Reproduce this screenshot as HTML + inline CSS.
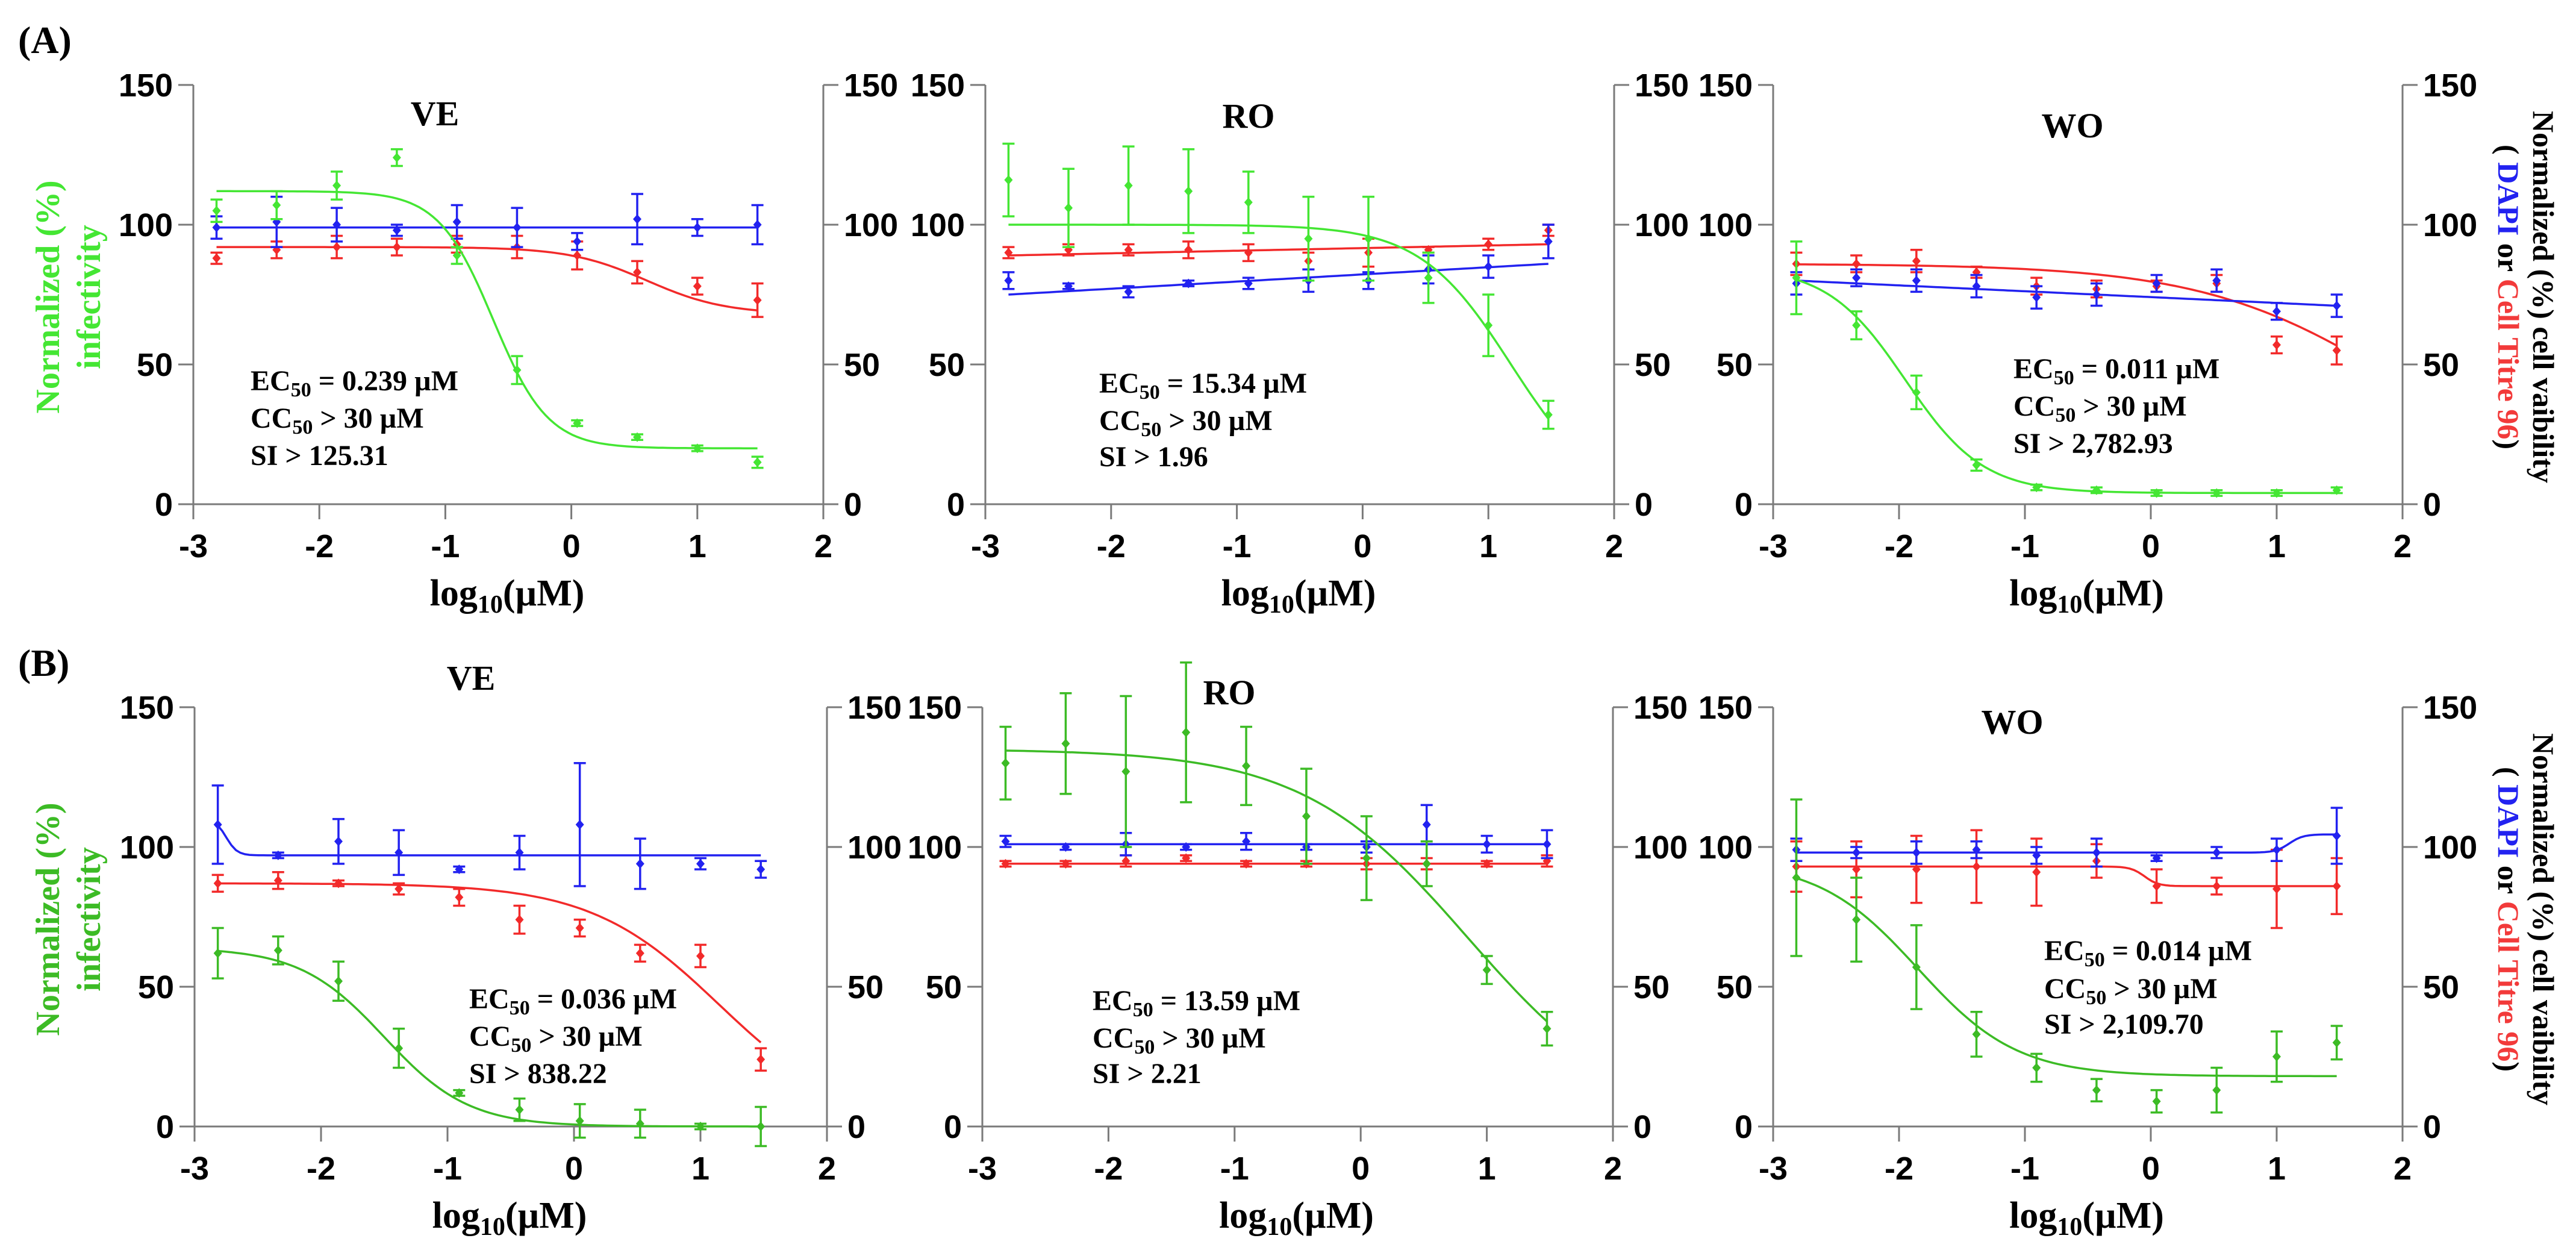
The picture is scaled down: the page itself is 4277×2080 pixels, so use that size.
<!DOCTYPE html>
<html><head><meta charset="utf-8"><style>
html,body{margin:0;padding:0;background:#fff;}
svg{display:block;}
.tk{font-family:"Liberation Sans",Arial,sans-serif;font-weight:bold;font-size:54px;fill:#000;}
.tm{font-family:"Liberation Serif","Times New Roman",serif;font-weight:bold;fill:#000;}
</style></head><body>
<svg id="fig" xmlns="http://www.w3.org/2000/svg" width="4277" height="2080" viewBox="0 0 4277 2080">
<rect width="4277" height="2080" fill="#fff"/>
<text class="tm" x="30" y="88" font-size="64">(A)</text>
<text class="tm" x="30" y="1122" font-size="64">(B)</text>
</svg>
<script>
const xDoses = [-2.816,-2.339,-1.862,-1.385,-0.908,-0.431,0.046,0.523,1.0,1.477];
const yTicks = [0,50,100,150];
const xTicks = [-3,-2,-1,0,1,2];

const A1_green = [105,107,114,124,89,48,29,24,20,15];
const A1_greenErr = [4,5,5,3,3,5,1,1,1,2];
const A1_blue = [99,101,100,98,101,99,94,102,99,100];
const A1_blueErr = [4,9,6,2,6,7,3,9,3,7];
const A1_red = [88,91,92,92,93,92,89,83,78,73];
const A1_redErr = [2,3,4,3,3,4,5,4,3,6];
const A1_greenFit = [112,20,-0.62,2];
const A1_blueFit = [99,99];
const A1_redFit = [92,68,0.6,1.4];

const A2_green = [116,106,114,112,108,95,95,81,64,32];
const A2_greenErr = [13,14,14,15,11,15,15,9,11,5];
const A2_blue = [80,78,76,79,79,80,80,84,85,94];
const A2_blueErr = [3,1,2,1,2,4,3,5,4,6];
const A2_red = [90,91,91,91,90,87,90,91,93,98];
const A2_redErr = [2,2,2,3,3,3,5,1,2,2];
const A2_greenFit = [100,0,1.18,1.2];
const A2_blueFit = [75,86];
const A2_redFit = [89,93];

const A3_green = [81,64,40,14,6,5,4,4,4,5];
const A3_greenErr = [13,5,6,2,1,1,1,1,1,1];
const A3_blue = [79,81,80,78,74,75,79,80,69,71];
const A3_blueErr = [4,3,4,4,4,4,3,4,3,4];
const A3_red = [86,86,87,83,78,77,78,79,57,55];
const A3_redErr = [4,3,4,2,3,3,2,3,3,5];
const A3_greenFit = [85,4,-1.95,1.4];
const A3_blueFit = [80,71];
const A3_redFit = [86,0,2.0,0.55];

const B1_green = [62,63,52,28,12,6,2,1,0,0];
const B1_greenErr = [9,5,7,7,1,4,6,5,1,7];
const B1_blue = [108,97,102,98,92,98,108,94,94,92];
const B1_blueErr = [14,1,8,8,1,6,22,9,2,3];
const B1_red = [87,88,87,85,82,74,71,62,61,24];
const B1_redErr = [3,3,1,2,3,5,3,3,4,4];
const B1_greenFit = [64,0,-1.5,1.3];
const B1_blueFit = [110,97,-2.75,10];
const B1_redFit = [87,0,1.15,0.85];

const B2_green = [130,137,127,141,129,111,96,94,56,35];
const B2_greenErr = [13,18,27,25,14,17,15,8,5,6];
const B2_blue = [102,100,101,100,102,100,100,108,101,101];
const B2_blueErr = [2,1,4,1,3,1,2,7,3,5];
const B2_red = [94,94,95,96,94,94,94,94,94,95];
const B2_redErr = [1,1,2,1,1,1,2,2,1,2];
const B2_greenFit = [135,0,0.85,0.66];
const B2_blueFit = [101,101];
const B2_redFit = [94,94];

const B3_green = [89,74,57,33,21,13,9,13,25,30];
const B3_greenErr = [28,15,15,8,5,4,4,8,9,6];
const B3_blue = [99,98,98,99,97,98,96,98,99,104];
const B3_blueErr = [4,2,4,3,3,5,1,2,4,10];
const B3_red = [93,92,92,93,91,95,86,86,85,86];
const B3_redErr = [9,10,12,13,12,6,6,3,14,10];
const B3_greenFit = [95,18,-1.85,1.1];
const B3_blueFit = [98,104.5,1.1,8];
const B3_redFit = [93,86,-0.05,8];

const NS='http://www.w3.org/2000/svg';
const svg=document.getElementById('fig');
function mk(tag,attrs,parent){const e=document.createElementNS(NS,tag);for(const k in attrs)e.setAttribute(k,attrs[k]);(parent||svg).appendChild(e);return e;}

const panels=[
 {id:'a1',title:'VE',l:321,r:1367,y0:837,y150:141,tx:722,ty:208,ax:416,ay:[632,694,756],ec:'0.239',si:'125.31',gcol:'#44e633',leftTitle:true,rightTitle:false,
  g:A1_green,ge:A1_greenErr,b:A1_blue,be:A1_blueErr,rd:A1_red,re:A1_redErr,gf:A1_greenFit,bf:A1_blueFit,rf:A1_redFit},
 {id:'a2',title:'RO',l:1636,r:2680,y0:837,y150:141,tx:2073,ty:212,ax:1825,ay:[636,698,758],ec:'15.34',si:'1.96',gcol:'#44e633',
  g:A2_green,ge:A2_greenErr,b:A2_blue,be:A2_blueErr,rd:A2_red,re:A2_redErr,gf:A2_greenFit,bf:A2_blueFit,rf:A2_redFit},
 {id:'a3',title:'WO',l:2944,r:3989,y0:837,y150:141,tx:3441,ty:228,ax:3343,ay:[612,674,736],ec:'0.011',si:'2,782.93',gcol:'#44e633',rightTitle:true,
  g:A3_green,ge:A3_greenErr,b:A3_blue,be:A3_blueErr,rd:A3_red,re:A3_redErr,gf:A3_greenFit,bf:A3_blueFit,rf:A3_redFit},
 {id:'b1',title:'VE',l:323,r:1373,y0:1870,y150:1174,tx:782,ty:1145,ax:779,ay:[1658,1720,1782],ec:'0.036',si:'838.22',gcol:'#3cbb25',leftTitle:true,
  g:B1_green,ge:B1_greenErr,b:B1_blue,be:B1_blueErr,rd:B1_red,re:B1_redErr,gf:B1_greenFit,bf:B1_blueFit,rf:B1_redFit},
 {id:'b2',title:'RO',l:1631,r:2678,y0:1870,y150:1174,tx:2041,ty:1169,ax:1814,ay:[1661,1723,1782],ec:'13.59',si:'2.21',gcol:'#3cbb25',
  g:B2_green,ge:B2_greenErr,b:B2_blue,be:B2_blueErr,rd:B2_red,re:B2_redErr,gf:B2_greenFit,bf:B2_blueFit,rf:B2_redFit},
 {id:'b3',title:'WO',l:2944,r:3989,y0:1870,y150:1174,tx:3341,ty:1218,ax:3394,ay:[1578,1641,1700],ec:'0.014',si:'2,109.70',gcol:'#3cbb25',rightTitle:true,
  g:B3_green,ge:B3_greenErr,b:B3_blue,be:B3_blueErr,rd:B3_red,re:B3_redErr,gf:B3_greenFit,bf:B3_blueFit,rf:B3_redFit}
];

function fitVal(f,x){
  if(f.length===2){const t=(x-xDoses[0])/(xDoses[9]-xDoses[0]);return f[0]+(f[1]-f[0])*t;}
  return f[1]+(f[0]-f[1])/(1+Math.pow(10,f[3]*(x-f[2])));
}

panels.forEach(p=>{
  const g=mk('g',{});
  
  
  const X=v=>p.l+(v+3)/5*(p.r-p.l);
  const Y=v=>p.y0-(v/150)*(p.y0-p.y150);
  const ax='#7a7a7a';
  // axes
  const la=mk('line',{x1:p.l,y1:Y(150),x2:p.l,y2:p.y0+25,stroke:ax,'stroke-width':3},g);
  
  
  const ra=mk('line',{x1:p.r,y1:Y(150),x2:p.r,y2:p.y0+25,stroke:ax,'stroke-width':3},g);
  
  
  const xa=mk('line',{x1:p.l-25,y1:p.y0,x2:p.r+25,y2:p.y0,stroke:ax,'stroke-width':3},g);
  
  
  yTicks.forEach(t=>{
    mk('line',{x1:p.l-25,y1:Y(t),x2:p.l,y2:Y(t),stroke:ax,'stroke-width':3},g);
    mk('line',{x1:p.r,y1:Y(t),x2:p.r+25,y2:Y(t),stroke:ax,'stroke-width':3},g);
    const lt=mk('text',{x:p.l-34,y:Y(t)+19,'text-anchor':'end',class:'tk'},g);lt.textContent=t;
    
    
    const rt=mk('text',{x:p.r+34,y:Y(t)+19,'text-anchor':'start',class:'tk'},g);rt.textContent=t;
    
    
  });
  xTicks.forEach(t=>{
    mk('line',{x1:X(t),y1:p.y0,x2:X(t),y2:p.y0+25,stroke:ax,'stroke-width':3},g);
    const xt=mk('text',{x:X(t),y:p.y0+88,'text-anchor':'middle',class:'tk'},g);xt.textContent=t;
    
    
  });
  // x title
  const xtt=mk('text',{x:(p.l+p.r)/2-2,y:p.y0+168,'text-anchor':'middle',class:'tm','font-size':62},g);
  xtt.innerHTML='log<tspan font-size="42" dy="12">10</tspan><tspan dy="-12">(µM)</tspan>';
  
  
  // title
  const tt=mk('text',{x:p.tx,y:p.ty,'text-anchor':'middle',class:'tm','font-size':58},g);tt.textContent=p.title;
  
  
  // annotations
  const a1=mk('text',{x:p.ax,y:p.ay[0]+16,class:'tm','font-size':48},g);
  a1.innerHTML='EC<tspan font-size="34" dy="10">50</tspan><tspan dy="-10"> = '+p.ec+' µM</tspan>';
  
  
  const a2=mk('text',{x:p.ax,y:p.ay[1]+16,class:'tm','font-size':48},g);
  a2.innerHTML='CC<tspan font-size="34" dy="10">50</tspan><tspan dy="-10">  &gt; 30 µM</tspan>';
  
  
  const a3=mk('text',{x:p.ax,y:p.ay[2]+16,class:'tm','font-size':48},g);
  a3.textContent='SI > '+p.si;
  
  
  // series
  const series=[['red-cell-titre','#f22a2a',p.rd,p.re,p.rf],['blue-dapi','#2222f0',p.b,p.be,p.bf],['green-infectivity',p.gcol,p.g,p.ge,p.gf]];
  series.forEach(s=>{
    const sg=mk('g',{},g);
    
    
    let d='';
    for(let i=0;i<=120;i++){const x=xDoses[0]+(xDoses[9]-xDoses[0])*i/120;d+=(i?'L':'M')+X(x).toFixed(1)+','+Y(fitVal(s[4],x)).toFixed(1);}
    const c=mk('path',{d:d,fill:'none',stroke:s[1],'stroke-width':3.5},sg);
    
    
    s[2].forEach((v,i)=>{
      const cx=X(xDoses[i]),cy=Y(v),e=s[3][i];
      const eb=mk('path',{d:`M${cx},${Y(v+e)}L${cx},${Y(v-e)}M${cx-10},${Y(v+e)}L${cx+10},${Y(v+e)}M${cx-10},${Y(v-e)}L${cx+10},${Y(v-e)}`,stroke:s[1],'stroke-width':3.5,fill:'none'},sg);
      
      
      const m=mk('path',{d:`M${cx},${cy-8}L${cx+7},${cy}L${cx},${cy+8}L${cx-7},${cy}Z`,fill:s[1]},sg);
      
      
    });
  });
  const cy=(p.y0+p.y150)/2+4;
  if(p.leftTitle){
    const t1=mk('text',{x:0,y:0,transform:`translate(98,${cy}) rotate(-90)`,'text-anchor':'middle',class:'tm','font-size':56,fill:p.gcol,style:'fill:'+p.gcol},g);
    t1.textContent='Normalized  (%)';
    
    
    const t2=mk('text',{x:0,y:0,transform:`translate(166,${cy}) rotate(-90)`,'text-anchor':'middle',class:'tm','font-size':56,style:'fill:'+p.gcol},g);
    t2.textContent='infectivity';
    
    
  }
  if(p.rightTitle){
    const t1=mk('text',{x:0,y:0,transform:`translate(4206,${cy}) rotate(90)`,'text-anchor':'middle',class:'tm','font-size':50},g);
    t1.textContent='Normalized  (%) cell vaibility';
    
    
    const t2=mk('text',{x:0,y:0,transform:`translate(4148,${cy}) rotate(90)`,'text-anchor':'middle',class:'tm','font-size':50},g);
    t2.innerHTML='( <tspan style="fill:#2222f0">DAPI</tspan> or  <tspan style="fill:#f23a3a">Cell Titre 96</tspan>)';
    
    
  }
});
</script>
</body></html>
